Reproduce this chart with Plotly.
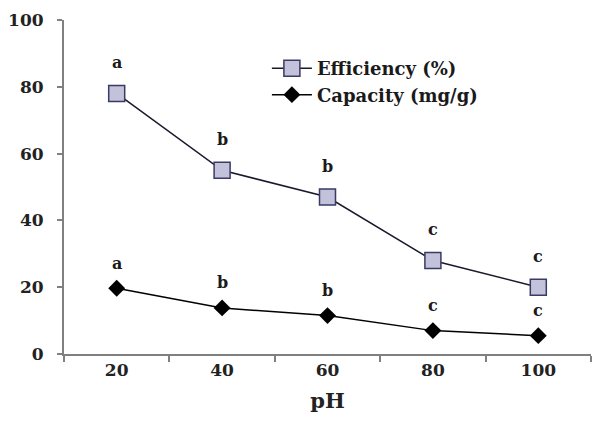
import plotly.graph_objects as go

ph = ["20", "40", "60", "80", "100"]
efficiency = [78, 55, 47, 28, 20]
capacity = [19.7, 13.8, 11.5, 7.0, 5.5]
eff_letters = ["a", "b", "b", "c", "c"]
cap_letters = ["a", "b", "b", "c", "c"]
y_ticks = [0, 20, 40, 60, 80, 100]

FONT = "DejaVu Serif"


def bold(size, color="#1a1a1a"):
    return dict(family=FONT, size=size, color=color, weight="bold")


fig = go.Figure()
fig.add_trace(go.Scatter(
    x=ph, y=efficiency, name="Efficiency (%)", mode="lines+markers",
    line=dict(color="#1a1a2e", width=1.5),
    marker=dict(symbol="square", size=16, color="#c2c2da",
                line=dict(color="#3a3a66", width=1.5)),
))
fig.add_trace(go.Scatter(
    x=ph, y=capacity, name="Capacity (mg/g)", mode="lines+markers",
    line=dict(color="#000000", width=1.5),
    marker=dict(symbol="diamond", size=13, color="#000000"),
))

for i, (yv, t) in enumerate(zip(efficiency, eff_letters)):
    fig.add_annotation(x=i, y=yv, xref="x", yref="y", text=t,
                       showarrow=False, yshift=31, font=bold(16))
for i, (yv, t) in enumerate(zip(capacity, cap_letters)):
    fig.add_annotation(x=i, y=yv, xref="x", yref="y", text=t,
                       showarrow=False, yshift=25, font=bold(16))

fig.update_layout(
    width=601, height=421,
    margin=dict(l=56, r=18, t=12, b=75),
    paper_bgcolor="white", plot_bgcolor="white",
    font=bold(16),
    showlegend=True,
    legend=dict(x=0.385, y=0.91, xanchor="left", yanchor="top",
                bgcolor="rgba(0,0,0,0)", font=bold(18),
                tracegroupgap=0, itemwidth=40),
    xaxis=dict(type="category", tickson="boundaries", ticks="outside", ticklen=6,
               tickcolor="#808080", tickwidth=1.5,
               showline=True, linecolor="#808080", linewidth=2,
               showgrid=False, zeroline=False, automargin=False,
               tickfont=bold(17, "#222"),
               title=dict(text="pH", font=bold(21, "#222"), standoff=14),
               range=[-0.5, 4.5]),
    yaxis=dict(range=[0, 100], tickvals=y_ticks, ticks="outside", ticklen=5,
               tickcolor="#808080", tickwidth=1.5,
               showline=True, linecolor="#808080", linewidth=2,
               showgrid=False, zeroline=False, automargin=False,
               ticklabelstandoff=10, tickfont=bold(17, "#222")),
)

fig.write_html("out.html")
